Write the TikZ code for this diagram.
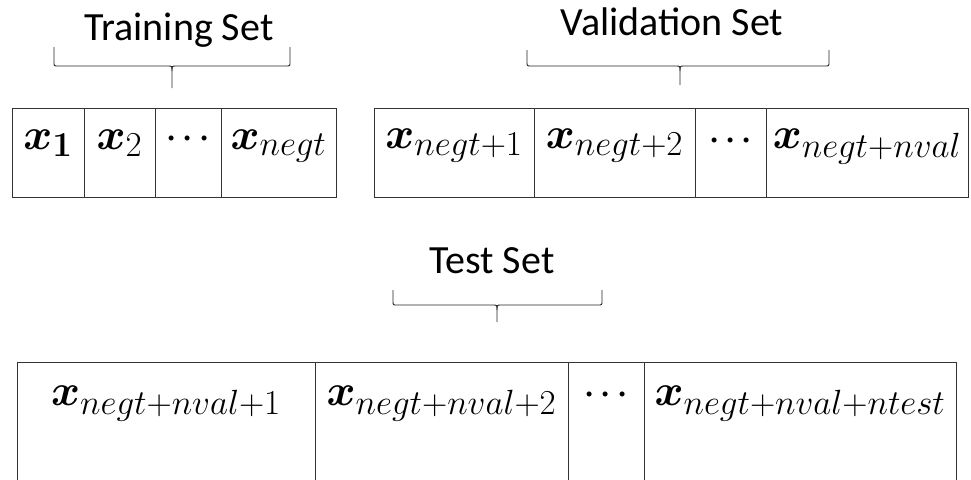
\RequirePackage{fix-cm}
\documentclass[tikz,border=0pt]{standalone}
\usepackage[no-math]{fontspec}
\setmainfont{Carlito}
\usepackage{bm}
\DeclareMathSizes{44}{44}{35}{25}
\newcommand{\mysetbrace}[6]{% L, C, R, top, h, bottom
  \draw[bracestyle] (#1,#4) -- (#1,{#5-4}) .. controls (#1,#5) .. ({#1+4},#5) -- ({#2-4},#5) .. controls (#2,#5) .. (#2,{#5+5}) -- (#2,#6);
  \draw[bracestyle] (#3,#4) -- (#3,{#5-4}) .. controls (#3,#5) .. ({#3-4},#5) -- ({#2+4},#5) .. controls (#2,#5) .. (#2,{#5+5});
}
\tikzset{
  cell/.style={draw=black!80, line width=1.3pt, anchor=north west, inner sep=0pt},
  lbl/.style={anchor=base, inner sep=0pt, font=\fontsize{40}{48}\selectfont},
  mth/.style={anchor=base, inner sep=0pt, font=\fontsize{44}{53}\selectfont},
  dots/.style={anchor=base, inner sep=0pt, font=\fontsize{32}{38}\selectfont},
  bracestyle/.style={draw=black!85, line width=0.9pt},
}
\begin{document}
\begin{tikzpicture}[x=1pt,y=-1pt]
\useasboundingbox (0,0) rectangle (971,479);
\clip (0,0) rectangle (971,479);
% Training set
\node[lbl] (trainlbl) at (179,40) {Training Set};
\mysetbrace{54}{172}{290}{47}{66}{88}
\node[cell, minimum width=72pt, minimum height=89pt] (t1) at (12,108) {};
\node[cell, minimum width=71pt, minimum height=89pt] (t2) at (84,108) {};
\node[cell, minimum width=66pt, minimum height=89pt] (t3) at (155,108) {};
\node[cell, minimum width=115pt, minimum height=89pt] (t4) at (221,108) {};
\node[mth] (tx1) at (48,149) {$\bm{x}_{\bm{1}}$};
\node[mth] (tx2) at (119.5,149) {$\bm{x}_{2}$};
\node[dots] (tx3) at (188,146) {$\bm{\cdots}$};
\node[mth] (tx4) at (278.5,149) {$\bm{x}_{negt}$};
% Validation set
\node[lbl] (vallbl) at (672,35) {Validation Set};
\mysetbrace{527}{680}{829}{50}{66}{85}
\node[cell, minimum width=160pt, minimum height=89pt] (v1) at (374,108) {};
\node[cell, minimum width=161pt, minimum height=89pt] (v2) at (534,108) {};
\node[cell, minimum width=71pt, minimum height=89pt] (v3) at (695,108) {};
\node[cell, minimum width=202pt, minimum height=89pt] (v4) at (766,108) {};
\node[mth] (vx1) at (454,148) {$\bm{x}_{negt+1}$};
\node[mth] (vx2) at (614.5,148) {$\bm{x}_{negt+2}$};
\node[dots] (vx3) at (730.5,148) {$\bm{\cdots}$};
\node[mth] (vx4) at (867,148) {$\bm{x}_{negt+nval}$};
% Test set
\node[lbl] (testlbl) at (492,273) {Test Set};
\mysetbrace{393}{497}{602}{290}{305}{322}
\node[cell, minimum width=298pt, minimum height=140pt] (s1) at (17,362) {};
\node[cell, minimum width=253pt, minimum height=140pt] (s2) at (315,362) {};
\node[cell, minimum width=76pt, minimum height=140pt] (s3) at (568,362) {};
\node[cell, minimum width=312pt, minimum height=140pt] (s4) at (644,362) {};
\node[mth] (sx1) at (166,405) {$\bm{x}_{negt+nval+1}$};
\node[mth] (sx2) at (441.5,405) {$\bm{x}_{negt+nval+2}$};
\node[dots] (sx3) at (606,402) {$\bm{\cdots}$};
\node[mth] (sx4) at (800,405) {$\bm{x}_{negt+nval+ntest}$};
\end{tikzpicture}
\end{document}
